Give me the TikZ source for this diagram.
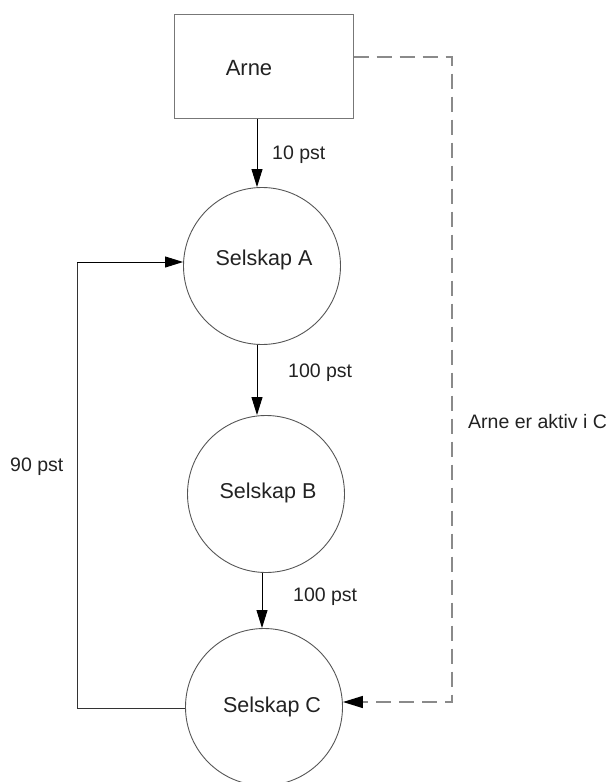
\documentclass[tikz,border=0pt]{standalone}
\usepackage{fontspec}
\setmainfont{Liberation Sans}
\usetikzlibrary{arrows.meta}
\definecolor{ink}{HTML}{222222}
\definecolor{rim}{HTML}{555555}
\definecolor{dashgrey}{HTML}{8A8A8A}
\begin{document}
\begin{tikzpicture}[x=1pt,y=-1pt,
  company/.style={circle,draw=rim,line width=0.9pt,minimum size=157pt,inner sep=0pt,
                  text=ink,font=\fontsize{21.5}{24}\selectfont},
  owner/.style={rectangle,draw=rim!80,line width=1pt,minimum width=179pt,minimum height=104pt,
                text=ink,font=\fontsize{22}{24}\selectfont},
  share/.style={text=ink,font=\fontsize{19.5}{22}\selectfont,inner sep=0pt},
  flow/.style={draw=black,line width=0.9pt,-{Triangle[length=18pt,width=11pt]}},
  loopline/.style={draw=black!80,line width=0.9pt},
  activity/.style={draw=dashgrey,line width=1.4pt,dash pattern=on 15pt off 8pt,
                   -{Triangle[length=20pt,width=12pt,color=black]}}]
\useasboundingbox (0,0) rectangle (607,782);

% boxes and circles
\node[owner] (arne) at (263.5,66) {};
\node[text=ink,font=\fontsize{22}{24}\selectfont] (arnetext) at (249,68) {Arne};
\node[company] (A) at (262,266) {};
\node[company] (B) at (266,494) {};
\node[company] (C) at (264,707) {};
\node[text=ink,font=\fontsize{21.5}{24}\selectfont] (Atext) at (264,260) {Selskap A};
\node[text=ink,font=\fontsize{21.5}{24}\selectfont] (Btext) at (268,493) {Selskap B};
\node[text=ink,font=\fontsize{21.5}{24}\selectfont] (Ctext) at (272,707) {Selskap C};

% helper columns for the vertical arrows
\coordinate (colA) at (257,0);
\coordinate (colB) at (262,0);

% ownership chain
\draw[flow] (arne.south -| colA) -- (A.north -| colA);
\draw[flow] (A.south -| colA) -- (B.north -| colA);
\draw[flow] (B.south -| colB) -- (C.north -| colB);

% 90 pst loop from C back to A
\coordinate (loopbot) at (77,708);
\coordinate (looptop) at (77,262);
\draw[loopline] (C.west |- loopbot) -- (loopbot) -- (looptop);
\draw[flow] (looptop) -- (A.west |- looptop);

% dashed relation from Arne to C
\coordinate (dtop) at (452,57);
\coordinate (dbot) at (452,702);
\draw[activity] (arne.east |- dtop) -- (dtop) -- (dbot) -- (C.east |- dbot);

% labels
\node[share,anchor=west] (l10) at (272,155) {10 pst};
\node[share,anchor=west] (l100a) at (288,373) {100 pst};
\node[share,anchor=west] (l100b) at (293,597) {100 pst};
\node[share,anchor=west] (l90) at (10,467) {90 pst};
\node[share,anchor=west] (lakt) at (468,422) {Arne er aktiv i C};
\end{tikzpicture}
\end{document}
